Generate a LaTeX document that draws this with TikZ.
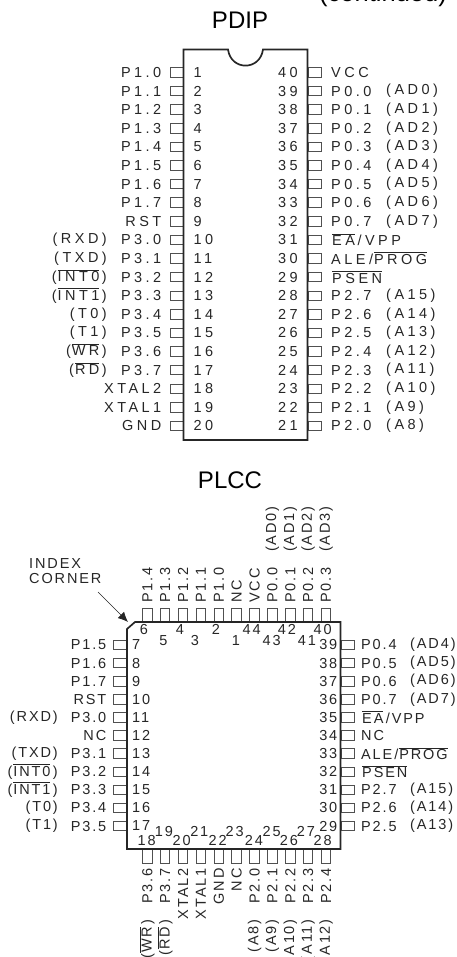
\documentclass[tikz,border=0pt]{standalone}
\usepackage{fontspec}
\usetikzlibrary{arrows.meta}
\setmainfont{Liberation Sans}
\newfontfamily\dipfont[LetterSpace=24]{Liberation Sans}
\newfontfamily\lccfont[LetterSpace=13]{Liberation Sans}
\newcommand{\ovl}[1]{\kern1pt\vbox{\hrule height .7pt\kern1.2pt\hbox{#1}}\kern2.5pt}
\definecolor{inkgray}{HTML}{262626}
\definecolor{pingray}{HTML}{505050}
\tikzset{pinh/.style={rectangle,draw=pingray,line width=.9pt,fill=white,
        inner sep=0pt,outer sep=0pt,minimum width=13pt,minimum height=9.5pt}}
\tikzset{pinv/.style={rectangle,draw=pingray,line width=.9pt,fill=white,
        inner sep=0pt,outer sep=0pt,minimum width=9.5pt,minimum height=14pt}}
\tikzset{sig/.style={inner sep=0pt,text=inkgray,
        font=\dipfont\fontsize{14.5}{14.5}\selectfont}}
\tikzset{lccsig/.style={inner sep=0pt,text=inkgray,
        font=\lccfont\fontsize{14.5}{14.5}\selectfont}}
\tikzset{title/.style={inner sep=0pt,text=black,font=\fontsize{24}{24}\selectfont}}
\tikzset{package/.style={line width=1.7pt,draw=inkgray,line join=miter}}

\begin{document}
\begin{tikzpicture}[x=1pt,y=-1pt]
  \useasboundingbox (0,0) rectangle (456,957);
  \node [title,font=\fontsize{25.5}{25.5}\selectfont,anchor=base east] (continued) at (447,2) {(continued)};
  \node [title] (pdip) at (240,20) {PDIP};
  \node [title] (plcc) at (230,480) {PLCC};

  % PDIP left side
  \foreach \n/\name in {1/P1.0,2/P1.1,3/P1.2,4/P1.3,5/P1.4,6/P1.5,7/P1.6,8/P1.7,9/RST,10/P3.0,
      11/P3.1,12/P3.2,13/P3.3,14/P3.4,15/P3.5,16/P3.6,17/P3.7,18/XTAL2,19/XTAL1,20/GND} {
    \node [pinh] (dip\n) at (177,{72.5+18.6*(\n-1)}) {};
    \node [sig,anchor=east] (dipname\n) at (161.5,{72.5+18.6*(\n-1)}) {\name};
    \node [sig,anchor=west] (dipnum\n) at (193.5,{72.5+18.6*(\n-1)}) {\n};
  }
  \foreach \n/\name in {10/(RXD),11/(TXD),12/(\ovl{INT0}),13/(\ovl{INT1}),14/(T0),15/(T1),
      16/(\ovl{WR}),17/(\ovl{RD})} {
    \node [sig,anchor=east] (dipalt\n) at (107,{72.5+18.6*(\n-1)}) {\name};
  }

  % PDIP right side
  \foreach \n/\name in {40/VCC,39/P0.0,38/P0.1,37/P0.2,36/P0.3,35/P0.4,34/P0.5,33/P0.6,32/P0.7,
      31/{\ovl{EA}/VPP},30/{ALE/\ovl{PROG}},29/{\ovl{PSEN}},28/P2.7,27/P2.6,26/P2.5,25/P2.4,
      24/P2.3,23/P2.2,22/P2.1,21/P2.0} {
    \node [pinh] (dip\n) at (314.5,{72.5+18.6*(40-\n)}) {};
    \node [sig,anchor=west] (dipname\n) at (331,{72.5+18.6*(40-\n)}) {\name};
    \node [sig,anchor=east] (dipnum\n) at (298,{72.5+18.6*(40-\n)}) {\n};
  }
  \foreach \n/\name in {39/(AD0),38/(AD1),37/(AD2),36/(AD3),35/(AD4),34/(AD5),33/(AD6),32/(AD7),
      28/(A15),27/(A14),26/(A13),25/(A12),24/(A11),23/(A10),22/(A9),21/(A8)} {
    \node [sig,anchor=west] (dipalt\n) at (386,{72.5+18.6*(40-\n)}) {\name};
  }
  \draw [package] (228,49.5) .. controls (231,71) and (260,71) .. (263,49.5)
    -- (307.5,49.5) -- (307.5,440) -- (183.5,440) -- (183.5,49.5) -- cycle;

  % PLCC left side
  \foreach \n/\name in {7/P1.5,8/P1.6,9/P1.7,10/RST,11/P3.0,12/NC,13/P3.1,14/P3.2,15/P3.3,
      16/P3.4,17/P3.5} {
    \node [pinh] (lcc\n) at (120,{645+18.1*(\n-7)}) {};
    \node [lccsig,anchor=east] (lccname\n) at (106.5,{645+18.1*(\n-7)}) {\name};
    \node [lccsig,anchor=west] (lccnum\n) at (132,{645+18.1*(\n-7)}) {\n};
  }
  \foreach \n/\name in {11/(RXD),13/(TXD),14/(\ovl{INT0}),15/(\ovl{INT1}),16/(T0),17/(T1)} {
    \node [lccsig,anchor=east] (lccalt\n) at (58,{645+18.1*(\n-7)}) {\name};
  }

  % PLCC right side
  \foreach \n/\name in {39/P0.4,38/P0.5,37/P0.6,36/P0.7,35/{\ovl{EA}/VPP},34/NC,
      33/{ALE/\ovl{PROG}},32/{\ovl{PSEN}},31/P2.7,30/P2.6,29/P2.5} {
    \node [pinh] (lcc\n) at (348,{645+18.1*(39-\n)}) {};
    \node [lccsig,anchor=west] (lccname\n) at (361,{645+18.1*(39-\n)}) {\name};
    \node [lccsig,anchor=east] (lccnum\n) at (337.5,{645+18.1*(39-\n)}) {\n};
  }
  \foreach \n/\name in {39/(AD4),38/(AD5),37/(AD6),36/(AD7),31/(A15),30/(A14),29/(A13)} {
    \node [lccsig,anchor=west] (lccalt\n) at (410,{645+18.1*(39-\n)}) {\name};
  }

  % PLCC top side
  \foreach \i/\n/\nx/\ny in {0/6/144/629.5,1/5/163.5/640.5,2/4/180/629.5,3/3/195/640.5,
      4/2/216/629.5,5/1/236/640.5,6/44/251.7/629.5,7/43/271.7/640.5,8/42/287/629.5,9/41/307/640.5,
      10/40/322.7/629.5} {
    \node [pinv] (lcc\n) at ({147.3+17.87*\i},615) {};
    \node [lccsig] (lccnum\n) at (\nx,\ny) {\n};
  }
  \foreach \n/\name in {6/P1.4,5/P1.3,4/P1.2,3/P1.1,2/P1.0,1/NC,44/VCC,43/P0.0,42/P0.1,41/P0.2,40/P0.3} {
    \node [lccsig,rotate=90,anchor=west] (lccname\n) at ([yshift=5pt]lcc\n.north) {\name};
  }
  \foreach \n/\name in {43/(AD0),42/(AD1),41/(AD2),40/(AD3)} {
    \node [lccsig,rotate=90,anchor=west] (lccalt\n) at (lcc\n |- 0,552) {\name};
  }

  % PLCC bottom side
  \foreach \i/\n/\nx/\ny in {0/18/146.7/840.7,1/19/164/831.7,2/20/181.7/840.7,3/21/199.3/831.7,
      4/22/217.7/840.7,5/23/234.6/831.7,6/24/254/840.7,7/25/271.7/831.7,8/26/289/840.7,
      9/27/306/831.7,10/28/322.7/840.7} {
    \node [pinv] (lcc\n) at ({147.3+17.87*\i},856) {};
    \node [lccsig] (lccnum\n) at (\nx,\ny) {\n};
  }
  \foreach \n/\name in {18/P3.6,19/P3.7,20/XTAL2,21/XTAL1,22/GND,23/NC,24/P2.0,25/P2.1,26/P2.2,27/P2.3,28/P2.4} {
    \node [lccsig,rotate=90,anchor=east] (lccname\n) at ([yshift=-5pt]lcc\n.south) {\name};
  }
  \foreach \n/\name in {18/(\ovl{WR}),19/(\ovl{RD}),24/(A8),25/(A9),26/(A10),27/(A11),28/(A12)} {
    \node [lccsig,rotate=90,anchor=east] (lccalt\n) at (lcc\n |- 0,919) {\name};
  }
  \draw [package] (135,622) -- (340.5,622) -- (340.5,849) -- (127,849) -- (127,629) -- cycle;

  \node [lccsig,anchor=north west,align=left] (index) at (29,558.5) {INDEX\\[0pt]CORNER};
  \coordinate (indextail) at (98,592);
  \coordinate (indexhead) at (128,622);
  \draw [-{Latex[length=10pt,width=9pt]},line width=.7pt,draw=inkgray] (indextail) -- (indexhead);
\end{tikzpicture}
\end{document}
